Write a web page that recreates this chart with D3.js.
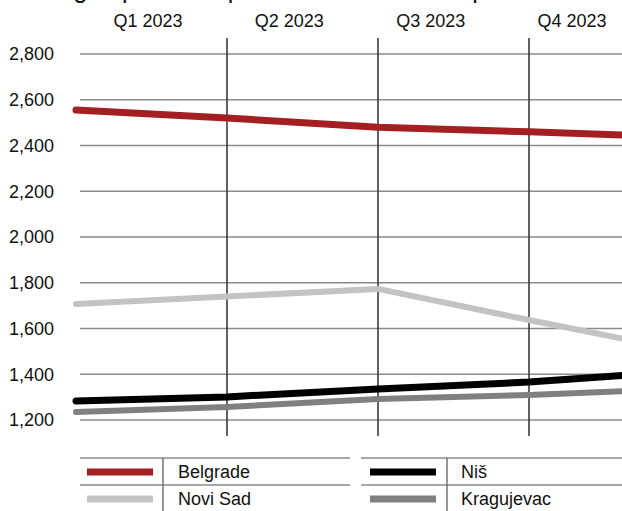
<!DOCTYPE html>
<html>
<head>
<meta charset="utf-8">
<script src="https://cdn.jsdelivr.net/npm/d3@7"></script>
<style>
  html, body { margin: 0; padding: 0; background: #ffffff; }
  svg { display: block; font-family: "Liberation Sans", Arial, sans-serif; }
</style>
</head>
<body>
<svg id="chart" width="622" height="511"></svg>
<script>
// Quarter labels along the top axis
const quarters = ["Q1 2023", "Q2 2023", "Q3 2023", "Q4 2023"];
// Readings taken at the quarter boundaries (start of each quarter, then year end)
const boundaries = [0, 1, 2, 3, 4];
// Series values (one per boundary)
const belgrade   = [2555, 2520, 2480, 2460, 2437];
const noviSad    = [1707, 1740, 1773, 1637, 1506];
const nis        = [1283, 1301, 1336, 1366, 1412];
const kragujevac = [1235, 1257, 1292, 1309, 1336];
// Value axis ticks
const yTicks = [1200, 1400, 1600, 1800, 2000, 2200, 2400, 2600, 2800];

const series = [
  { name: "Belgrade",   values: belgrade,   color: "#a31f22", width: 7 },
  { name: "Novi Sad",   values: noviSad,    color: "#c3c3c3", width: 6 },
  { name: "Niš",        values: nis,        color: "#000000", width: 7 },
  { name: "Kragujevac", values: kragujevac, color: "#808080", width: 6 }
];

const W = 622, H = 511;
const svg = d3.select("#chart");

const x = d3.scaleLinear().domain([0, 4]).range([76, 680]);
const xLabel = d3.scalePoint().domain(quarters).range([148, 572]);
const y = d3.scaleLinear().domain([1200, 2800]).range([420, 54]);

// Title (runs off the top edge; only its descenders show)
svg.append("text")
  .attr("x", 8.6).attr("y", -2)
  .attr("font-size", 25).attr("fill", "#111")
  .text("Average apartment price in Serbian cities per m²");

// Horizontal gridlines
svg.append("g")
  .selectAll("line").data(yTicks).join("line")
  .attr("x1", 80).attr("x2", W)
  .attr("y1", d => y(d)).attr("y2", d => y(d))
  .attr("stroke", "#8a8a8a").attr("stroke-width", 1.6);

// Value axis labels
svg.append("g")
  .selectAll("text").data(yTicks).join("text")
  .attr("x", 54).attr("y", d => y(d))
  .attr("dy", "0.35em").attr("text-anchor", "end")
  .attr("font-size", 18).attr("fill", "#111")
  .text(d => d3.format(",")(d));

// Vertical dividers at inner quarter boundaries
svg.append("g")
  .selectAll("line").data(boundaries.slice(1, 4)).join("line")
  .attr("x1", d => x(d)).attr("x2", d => x(d))
  .attr("y1", 38).attr("y2", 436)
  .attr("stroke", "#3a3a3a").attr("stroke-width", 1.6);

// Top axis labels
svg.append("g")
  .selectAll("text").data(quarters).join("text")
  .attr("x", d => xLabel(d)).attr("y", 27)
  .attr("text-anchor", "middle")
  .attr("font-size", 18).attr("fill", "#111")
  .text(d => d);

// Series lines
const line = d3.line().x((d, i) => x(boundaries[i])).y(d => y(d));
svg.append("g")
  .selectAll("path").data(series).join("path")
  .attr("d", d => line(d.values))
  .attr("fill", "none")
  .attr("stroke", d => d.color)
  .attr("stroke-width", d => d.width)
  .attr("stroke-linecap", "round")
  .attr("stroke-linejoin", "round");

// Legend: two columns, two rows, with ruled cells
const legend = svg.append("g");
const colX = [80, 361];
const colEnd = [350, W];
const rowTop = [458, 485];
[0, 1].forEach(c => {
  rowTop.forEach(r => {
    legend.append("line")
      .attr("x1", colX[c]).attr("x2", colEnd[c])
      .attr("y1", r).attr("y2", r)
      .attr("stroke", "#8a8a8a").attr("stroke-width", 1.6);
  });
});
[163, 447].forEach(sx => {
  legend.append("line")
    .attr("x1", sx).attr("x2", sx)
    .attr("y1", rowTop[0]).attr("y2", H)
    .attr("stroke", "#6a6a6a").attr("stroke-width", 1.4);
});
const items = legend.selectAll("g.item").data(series).join("g")
  .attr("class", "item")
  .attr("transform", (d, i) => `translate(${[87, 370][Math.floor(i / 2)]},${rowTop[i % 2] + 14})`);
items.append("line")
  .attr("x1", 0).attr("x2", 66)
  .attr("stroke", d => d.color).attr("stroke-width", 7);
items.append("text")
  .attr("x", 91)
  .attr("y", 0).attr("dy", "0.35em")
  .attr("font-size", 18).attr("fill", "#111")
  .text(d => d.name);
</script>
</body>
</html>
